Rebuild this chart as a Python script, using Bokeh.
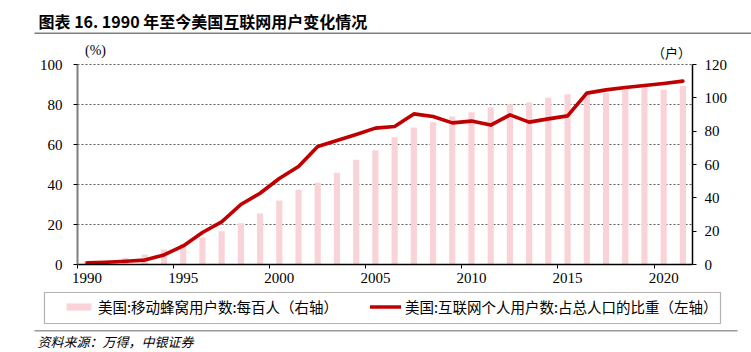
from bokeh.plotting import figure
from bokeh.models import (Range1d, LinearAxis, FixedTicker, Legend, LegendItem,
                          Label, BoxAnnotation)
from bokeh.embed import file_html
from bokeh.resources import INLINE

# ---------------- data ----------------
years = list(range(1990, 2022))
mobile_per_100 = [2.1, 2.6, 4.0, 6.0, 9.0, 12.5, 16.2, 20.0, 24.8, 30.6,
                  38.4, 44.8, 49.0, 55.0, 62.8, 68.6, 76.4, 82.2, 85.4, 88.8,
                  91.4, 94.4, 96.2, 97.2, 100.0, 102.2, 103.0, 103.0, 105.0, 106.4,
                  104.8, 107.1]
internet_pct = [0.8, 1.1, 1.6, 2.2, 4.8, 9.3, 16.0, 21.3, 30.0, 35.6,
                43.0, 49.0, 59.0, 62.0, 65.0, 68.2, 69.0, 75.3, 74.0, 70.8,
                71.7, 69.7, 74.8, 71.2, 72.8, 74.3, 85.7, 87.3, 88.5, 89.5,
                90.5, 91.7]
left_ticks = [0, 20, 40, 60, 80, 100]
right_ticks = [0, 20, 40, 60, 80, 100, 120]
year_ticks = [1990, 1995, 2000, 2005, 2010, 2015, 2020]

title_text = "图表 16. 1990 年至今美国互联网用户变化情况"
bar_label = "美国:移动蜂窝用户数:每百人（右轴）"
line_label = "美国:互联网个人用户数:占总人口的比重（左轴）"
source_text = "资料来源：万得，中银证券"
left_unit = "(%)"
right_unit = "（户）"

CJK = "Noto Sans CJK SC"
SERIF = "Liberation Serif"

# ---------------- layout geometry (canvas px) ----------------
W, H = 751, 352
FL, FR, FT, FB = 77, 692, 64, 264          # plot-area edges
X0, X1 = 1990, 2022                         # x extent of plot area
L0, L1 = 0, 100                             # left axis extent
R0, R1 = 0, 120                             # right axis extent

# the whole canvas is the frame; ranges are stretched so the plot area
# lands at the same pixels as in the reference
xpx = (FR - FL) / (X1 - X0)
lpx = (FB - FT) / (L1 - L0)
rpx = (FB - FT) / (R1 - R0)
x_range = Range1d(X0 - FL / xpx, X1 + (W - FR) / xpx)
y_range = Range1d(L0 - (H - FB) / lpx, L1 + FT / lpx)
r_range = Range1d(R0 - (H - FB) / rpx, R1 + FT / rpx)

p = figure(width=W, height=H, output_backend="svg", toolbar_location=None,
           x_range=x_range, y_range=y_range,
           x_axis_location=None, y_axis_location=None, min_border=0)
p.extra_y_ranges = {"right": r_range}
p.outline_line_color = None
p.background_fill_color = "white"
p.border_fill_color = "white"
p.xgrid.visible = False
p.ygrid.visible = False

xs = [y + 0.5 for y in years]

# dashed horizontal grid across the plot area only
grid_y = [t for t in left_ticks if t > 0]
p.segment(x0=[X0] * len(grid_y), x1=[X1] * len(grid_y), y0=grid_y, y1=grid_y,
          line_color="#333333", line_dash="2 2", line_width=0.8)

bars = p.vbar(x=xs, top=mobile_per_100, width=0.32, y_range_name="right",
              fill_color="#F9D3D7", line_color=None)
line = p.line(xs, internet_pct, line_color="#C00000", line_width=3.6,
              line_join="round", line_cap="round")

# left axis
ya = LinearAxis(ticker=FixedTicker(ticks=left_ticks), fixed_location=X0,
                bounds=(L0, L1))
ya.axis_line_color = "#7f7f7f"
ya.axis_line_width = 2
ya.major_tick_line_color = "black"
ya.major_tick_out = 4
ya.major_tick_in = 0
ya.minor_tick_line_color = None
ya.major_label_text_font = SERIF
ya.major_label_text_font_size = "15px"
ya.major_label_text_color = "black"
ya.major_label_standoff = 11
p.add_layout(ya, "left")

# right axis
ra = LinearAxis(y_range_name="right", ticker=FixedTicker(ticks=right_ticks),
                fixed_location=X1, bounds=(R0, R1))
ra.axis_line_color = "black"
ra.axis_line_width = 1.5
ra.major_tick_line_color = "black"
ra.major_tick_out = 4
ra.major_tick_in = 0
ra.minor_tick_line_color = None
ra.major_label_text_font = SERIF
ra.major_label_text_font_size = "15px"
ra.major_label_text_color = "black"
ra.major_label_standoff = 8
p.add_layout(ra, "right")

# bottom axis: tick marks at year boundaries
xa = LinearAxis(ticker=FixedTicker(ticks=year_ticks), fixed_location=L0,
                bounds=(X0, X1))
xa.axis_line_color = "black"
xa.axis_line_width = 1.5
xa.major_tick_line_color = "black"
xa.major_tick_out = 4
xa.major_tick_in = 0
xa.minor_tick_line_color = None
xa.major_label_text_font_size = "1px"
xa.major_label_text_alpha = 0
xa.major_label_standoff = 0
p.add_layout(xa, "below")

# bottom labels centred on the middle of each year
la = LinearAxis(ticker=FixedTicker(ticks=[y + 0.5 for y in year_ticks]),
                major_label_overrides={float(y) + 0.5: str(y) for y in year_ticks},
                fixed_location=L0)
la.axis_line_color = None
la.major_tick_line_color = None
la.major_tick_out = 0
la.major_tick_in = 0
la.minor_tick_line_color = None
la.major_label_text_font = SERIF
la.major_label_text_font_size = "15px"
la.major_label_text_color = "black"
la.major_label_standoff = 8
p.add_layout(la, "below")

# legend
legend = Legend(items=[LegendItem(label=bar_label, renderers=[bars]),
                       LegendItem(label=line_label, renderers=[line])],
                orientation="horizontal", location=(63, H - 317),
                border_line_alpha=0, background_fill_alpha=0,
                label_text_font=CJK, label_text_font_size="14.5px",
                label_text_color="black",
                glyph_width=31, glyph_height=9, label_standoff=4,
                spacing=32, padding=0, margin=0, label_height=20)
p.add_layout(legend, "center")


def box(left, right, top, bottom, **kw):
    return BoxAnnotation(left=left, right=right, top=H - top, bottom=H - bottom,
                         left_units="screen", right_units="screen",
                         top_units="screen", bottom_units="screen", **kw)


# legend frame and rules
p.add_layout(box(44, 720, 292, 323, fill_alpha=0, line_color="black", line_width=1.2))
p.add_layout(box(34, 751, 32, 33.5, fill_color="#7f7f7f", fill_alpha=1, line_alpha=0))
p.add_layout(box(34, 737, 329.5, 331, fill_color="#9a9a9a", fill_alpha=1, line_alpha=0))

# texts
p.add_layout(Label(x=38, y=H - 20, x_units="screen", y_units="screen",
                   text=title_text, text_font=CJK, text_font_size="16px",
                   text_font_style="bold", text_color="black",
                   text_align="left", text_baseline="middle"))
p.add_layout(Label(x=95, y=H - 50, x_units="screen", y_units="screen",
                   text=left_unit, text_font=SERIF, text_font_size="14px",
                   text_color="black", text_align="center", text_baseline="middle"))
p.add_layout(Label(x=671, y=H - 52, x_units="screen", y_units="screen",
                   text=right_unit, text_font=CJK, text_font_size="13px",
                   text_color="black", text_align="center", text_baseline="middle"))
p.add_layout(Label(x=37, y=H - 341, x_units="screen", y_units="screen",
                   text=source_text, text_font=CJK, text_font_size="13px",
                   text_font_style="italic", text_color="black",
                   text_align="left", text_baseline="middle"))

open("out.html", "w").write(file_html(p, INLINE))
